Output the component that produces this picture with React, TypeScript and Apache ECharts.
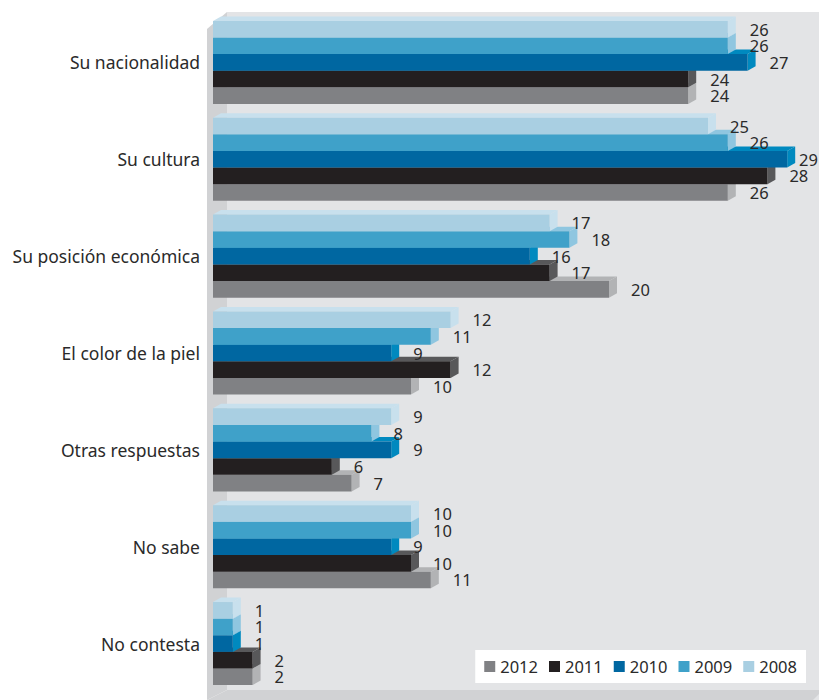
import React, { useEffect, useRef } from "react";
import * as echarts from "echarts";

const categories = [
  "Su nacionalidad",
  "Su cultura",
  "Su posición económica",
  "El color de la piel",
  "Otras respuestas",
  "No sabe",
  "No contesta",
];
const years = ["2012", "2011", "2010", "2009", "2008"];
const v2008 = [26, 25, 17, 12, 9, 10, 1];
const v2009 = [26, 26, 18, 11, 8, 10, 1];
const v2010 = [27, 29, 16, 9, 9, 9, 1];
const v2011 = [24, 28, 17, 12, 6, 10, 2];
const v2012 = [24, 26, 20, 10, 7, 11, 2];

const FONT = '"Noto Sans", "Open Sans", sans-serif';

const seriesDefs = [
  { name: "2012", values: v2012, slot: 4, front: "#808184", side: "#b2b3b5" },
  { name: "2011", values: v2011, slot: 3, front: "#231f20", side: "#58585a" },
  { name: "2010", values: v2010, slot: 2, front: "#0067a1", side: "#0089bf" },
  { name: "2009", values: v2009, slot: 1, front: "#3fa1c9", side: "#8fc6e0" },
  { name: "2008", values: v2008, slot: 0, front: "#a9cfe2", side: "#c8e0ed" },
];

function makeRender(slot: number, front: string, side: string) {
  return (params: any, api: any) => {
    const val = api.value(0);
    const cat = api.value(1);
    const p0 = api.coord([0, cat]);
    const p1 = api.coord([val, cat]);
    const band = api.size([0, 1])[1];
    const h = band * 0.1715;
    const top = p0[1] - 2.5 * h + slot * h;
    const x0 = p0[0];
    const x1 = p1[0];
    const dx = 8;
    const dy = -4.5;
    const labelX = Math.min(x1 + 22, api.getWidth() - 20);
    return {
      type: "group",
      children: [
        {
          type: "polygon",
          shape: { points: [[x0, top], [x0 + dx, top + dy], [x1 + dx, top + dy], [x1, top]] },
          style: { fill: side },
        },
        {
          type: "polygon",
          shape: { points: [[x1, top], [x1 + dx, top + dy], [x1 + dx, top + h + dy], [x1, top + h]] },
          style: { fill: side },
        },
        {
          type: "rect",
          shape: { x: x0, y: top, width: x1 - x0, height: h },
          style: { fill: front },
        },
        {
          type: "text",
          x: labelX,
          y: top + h / 2,
          z2: 100,
          style: {
            text: String(val),
            fill: "#2a2a2a",
            fontSize: 16.5,
            lineHeight: 15,
            fontFamily: FONT,
            verticalAlign: "middle",
            align: "left",
          },
        },
      ],
    };
  };
}

export default function App() {
  const ref = useRef<HTMLDivElement>(null);
  useEffect(() => {
    if (!ref.current) return;
    const chart = echarts.init(ref.current, undefined, { renderer: "svg" });
    chart.setOption({
      animation: false,
      textStyle: { fontFamily: FONT },
      graphic: [
        {
          type: "polygon",
          z: -1,
          shape: { points: [[227, 12], [819, 12], [819, 700], [227, 700]] },
          style: { fill: "#e3e4e6" },
        },
        {
          type: "polygon",
          z: -1,
          shape: { points: [[207, 29], [227, 12], [227, 690], [207, 700]] },
          style: { fill: "#d1d2d4" },
        },
        {
          type: "polygon",
          z: -1,
          shape: { points: [[207, 700], [227, 690], [819, 690], [819, 694], [813, 700]] },
          style: { fill: "#d1d2d4" },
        },
      ],
      legend: {
        data: years,
        right: 13,
        top: 650,
        backgroundColor: "#ffffff",
        padding: [8, 9, 8, 9],
        itemWidth: 11,
        itemHeight: 11,
        itemGap: 11,
        icon: "rect",
        textStyle: { fontSize: 16.5, color: "#2a2a2a", fontFamily: FONT },
      },
      grid: { left: 213, right: 12, top: 14, height: 678 },
      xAxis: {
        type: "value",
        min: 0,
        max: 30,
        show: false,
        splitLine: { show: false },
      },
      yAxis: {
        type: "category",
        data: categories,
        inverse: true,
        axisLine: { show: false },
        axisTick: { show: false },
        splitLine: { show: false },
        axisLabel: { fontSize: 17.5, color: "#2a2a2a", margin: 13, fontFamily: FONT },
      },
      series: seriesDefs.map((s) => ({
        type: "custom",
        name: s.name,
        itemStyle: { color: s.front },
        encode: { x: 0, y: 1 },
        data: s.values.map((v, i) => [v, i]),
        renderItem: makeRender(s.slot, s.front, s.side),
      })),
    });
    return () => chart.dispose();
  }, []);
  return (
    <div
      ref={ref}
      style={{ position: "absolute", left: 0, top: 0, width: 819, height: 700 }}
    />
  );
}
